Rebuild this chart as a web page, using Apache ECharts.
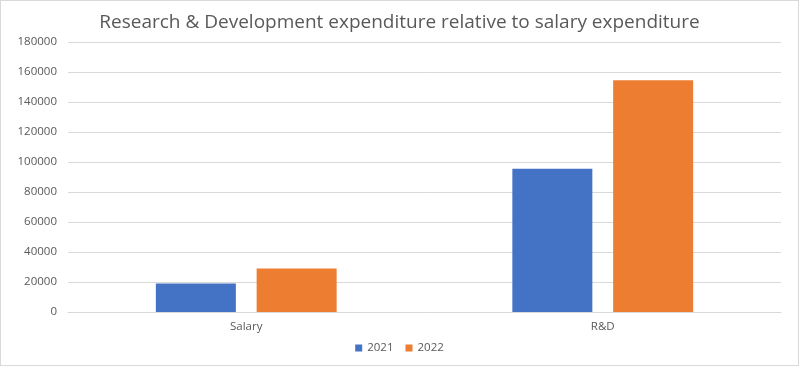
<!DOCTYPE html>
<html><head><meta charset="utf-8">
<script src="https://cdn.jsdelivr.net/npm/echarts@6/dist/echarts.min.js"></script>
<style>html,body{margin:0;padding:0;background:#fff}#c{width:797px;height:364px;border:1px solid #d9d9d9}</style>
</head><body><div id="c"></div>
<script>
const categories = ['Salary', 'R&D'];
const series2021 = [19000, 95500];
const series2022 = [29000, 154500];
const seriesNames = ['2021', '2022'];
const chart = echarts.init(document.getElementById('c'));
chart.setOption({
  animation: false,
  title: {text: 'Research & Development expenditure relative to salary expenditure', left: 'center', top: 7,
    textStyle: {fontFamily: 'Open Sans', fontSize: 19, fontWeight: 'normal', color: '#595959'}},
  legend: {bottom: 6, left: 'center', itemWidth: 7, itemHeight: 7, itemGap: 12, icon: 'rect',
    textStyle: {fontFamily: 'Open Sans', fontSize: 11.5, color: '#595959'}},
  grid: {left: 67, right: 17, top: 41, bottom: 53},
  xAxis: {type: 'category', data: categories,
    axisLine: {lineStyle: {color: '#d9d9d9'}}, axisTick: {show: false},
    axisLabel: {fontFamily: 'Open Sans', fontSize: 11.5, color: '#595959', margin: 9}},
  yAxis: {type: 'value', min: 0, max: 180000, interval: 20000,
    axisLine: {show: false}, axisTick: {show: false},
    splitLine: {lineStyle: {color: '#d9d9d9'}},
    axisLabel: {fontFamily: 'Open Sans', fontSize: 11.5, color: '#595959', margin: 11,
      formatter: v => String(v)}},
  series: [
    {name: seriesNames[0], type: 'bar', data: series2021, barWidth: 80, barGap: '26%', itemStyle: {color: '#4472C4'}},
    {name: seriesNames[1], type: 'bar', data: series2022, barWidth: 80, itemStyle: {color: '#ED7D31'}}
  ]
});
</script></body></html>
